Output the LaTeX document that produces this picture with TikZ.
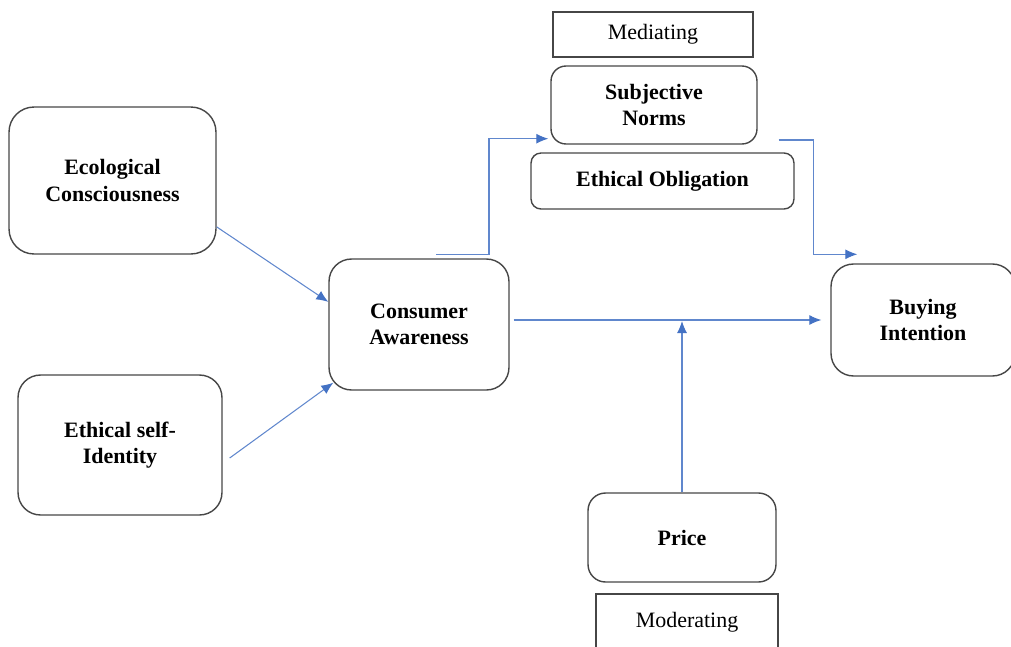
\documentclass[tikz,border=0pt]{standalone}
\usepackage{fontspec}
\setmainfont{Liberation Serif}
\usetikzlibrary{calc,arrows.meta}
\definecolor{linkblue}{RGB}{68,114,196}
\definecolor{boxgray}{RGB}{70,70,70}

\begin{document}
\begin{tikzpicture}[x=0.02cm, y=-0.02cm,
	box/.style={draw=boxgray, line width=0.8pt, rounded corners=#1, align=center, inner sep=0pt, font=\fontsize{12.5}{15}\selectfont\bfseries},
	box/.default=0.4cm,
	tag/.style={draw=boxgray, line width=0.8pt, inner sep=0pt, font=\fontsize{12.5}{15}\selectfont},
	link/.style={draw=linkblue!85, line width=0.6pt, -{Latex[length=2.4mm, width=2mm, color=linkblue]}}]
			%%%%% START %%%%%
			\useasboundingbox (0, 0) rectangle (1011, 646);
			
			\node[tag, minimum width=4cm, minimum height=0.9cm] (med) at (653, 34.5) {Mediating};
			\node[box=0.3cm, minimum width=4.12cm, minimum height=1.56cm] (sub) at (654, 105) {Subjective\\Norms};
			\node[box=0.2cm, minimum width=5.26cm, minimum height=1.12cm] (obl) at (662.5, 181) {Ethical Obligation};
			
			\node[box=0.5cm, minimum width=4.14cm, minimum height=2.94cm] (eco) at (112.5, 180.5) {Ecological\\Consciousness};
			\node[box=0.45cm, minimum width=4.08cm, minimum height=2.8cm] (esi) at (120, 445) {Ethical self-\\Identity};
			
			\node[box=0.45cm, minimum width=3.6cm, minimum height=2.62cm] (ca) at (419, 324.5) {Consumer\\Awareness};
			\node[box=0.45cm, minimum width=3.68cm, minimum height=2.24cm] (bi) at (923, 320) {Buying\\Intention};
			
			\node[box=0.35cm, minimum width=3.76cm, minimum height=1.78cm] (price) at (682, 537.5) {Price};
			\node[tag, minimum width=3.64cm, minimum height=1.12cm] (mod) at (687, 622) {Moderating};
			
			\draw[link] (eco.-24) -- (ca.166);
			\draw[link] ($(esi.east)+(7, 13)$) -- ($(ca.south west)+(5, -8)$);
			
			\draw[link] ($(ca.north)+(17, -4)$) -- ++(53, 0) |- ($(sub.south west)+(-2, -6)$);
			\draw[link] ($(sub.east)+(21, 35)$) -- ++(35, 0) |- ($(bi.north west)+(27, -9)$);
			
			\draw[link] ($(ca.east)+(4, -4.5)$) -- ($(bi.west)+(-9, 0)$);
			\draw[link] (price.north) -- ($(price.north |- bi.west)+(0, 1)$);
			
			%%%%% END %%%%%
\end{tikzpicture}
\end{document}
